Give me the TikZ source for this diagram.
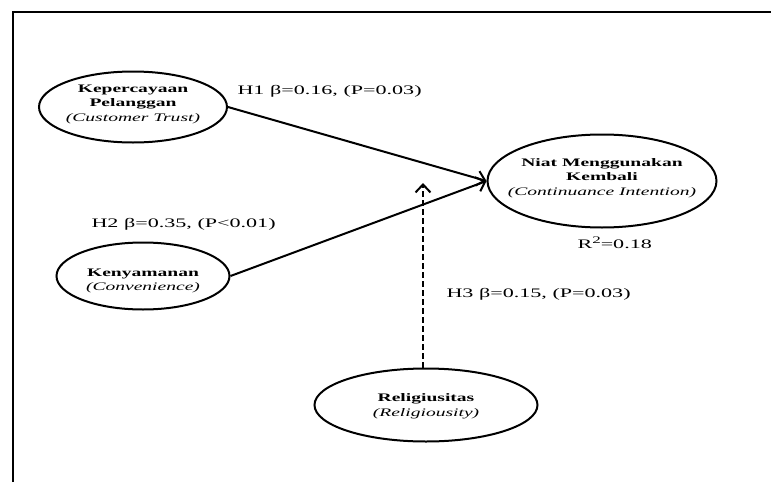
\documentclass[tikz,border=0pt]{standalone}
\usepackage{fontspec}
\setmainfont[FakeStretch=1.7]{Liberation Serif}
\usetikzlibrary{shapes.geometric,arrows.meta}
\newcommand{\eng}[1]{{\mdseries\itshape #1}}
\begin{document}
\begin{tikzpicture}[x=1pt,y=-1pt,
  var/.style={draw,ellipse,line width=2pt,inner sep=0pt},
  vtext/.style={align=center,font=\fontsize{11.5}{14.5}\selectfont\bfseries},
  lbl/.style={anchor=base west,font=\fontsize{13}{16}\selectfont},
  path/.style={line width=2pt,-{Straight Barb[length=8pt,width=15pt,line width=2pt]}}]
\useasboundingbox (0,0) rectangle (771,482);
\draw[line width=2.5pt] (13,482)--(13,12)--(771,12);
% variables
\node[var,minimum width=188,minimum height=71] (kep) at (133,107) {};
\node[vtext] at (133,104) {Kepercayaan\\Pelanggan\\\eng{(Customer Trust)}};
\node[var,minimum width=229,minimum height=93] (niat) at (602,181) {};
\node[vtext] at (602,178) {Niat Menggunakan\\Kembali\\\eng{(Continuance Intention)}};
\node[var,minimum width=173,minimum height=67] (nyam) at (143,276) {};
\node[vtext] at (143,281) {Kenyamanan\\\eng{(Convenience)}};
\node[var,minimum width=223,minimum height=73] (rel) at (426,405) {};
\node[vtext] at (426,406) {Religiusitas\\\eng{(Religiousity)}};
% paths
\draw[path] (kep.east)--(niat.west);
\draw[path] (nyam.east)--(niat.west);
\coordinate (mod) at (423,183);
\draw[path,dash pattern=on 6pt off 3pt] (rel.north-|mod)--(mod);
\node[lbl] (h1) at (234,94) {H1 β=0.16, (P=0.03)};
\node[lbl] (h2) at (88,227) {H2 β=0.35, (P<0.01)};
\node[lbl] (h3) at (443,297) {H3 β=0.15, (P=0.03)};
\node[lbl] (r2) at (574,248) {R\raisebox{5pt}{\fontsize{10}{10}\selectfont 2}=0.18};
\end{tikzpicture}
\end{document}
